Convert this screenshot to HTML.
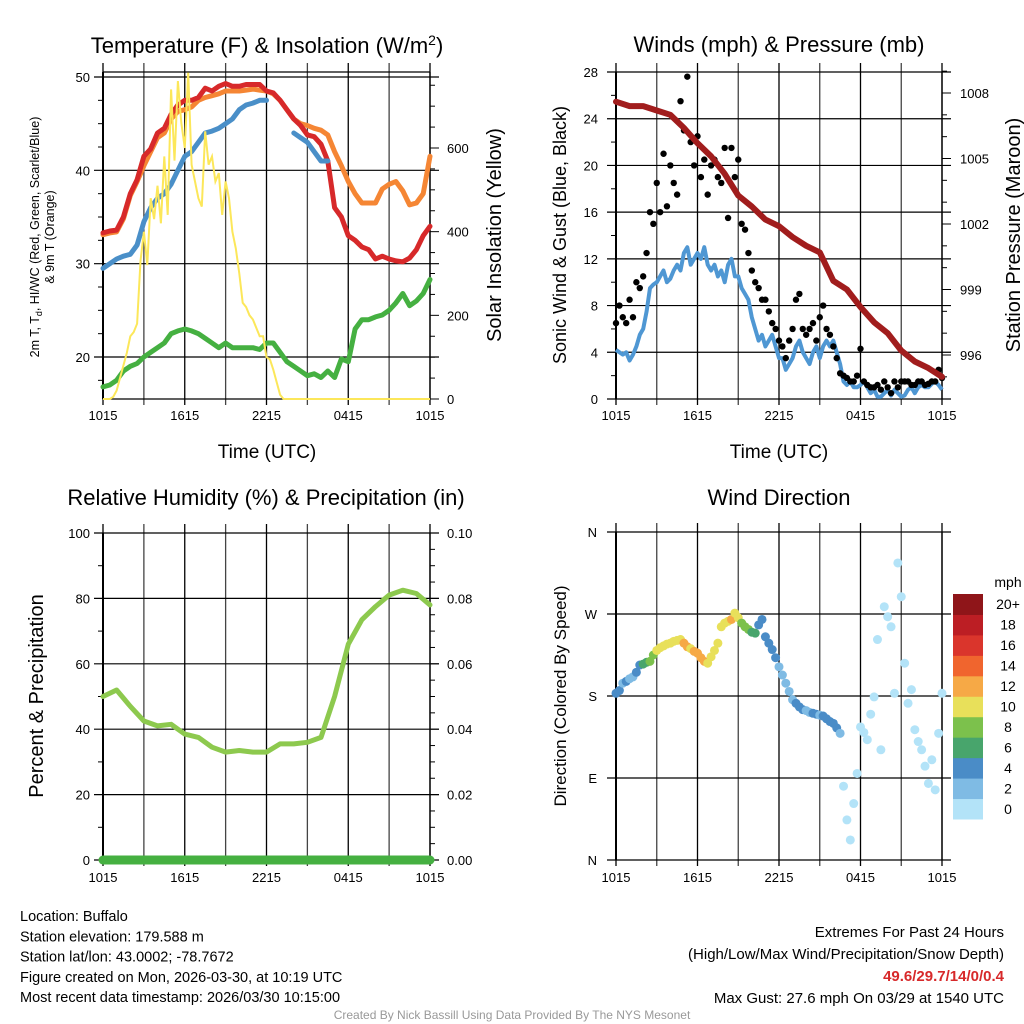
<!DOCTYPE html>
<html><head><meta charset="utf-8"><style>
html,body{margin:0;padding:0;background:#fff;}
svg{display:block;font-family:"Liberation Sans",sans-serif;}
</style></head><body>
<svg id="c" width="1024" height="1024" viewBox="0 0 1024 1024" xmlns="http://www.w3.org/2000/svg"></svg>
<script>
// ---- DATA ----
const xTickLabels = ["1015","1615","2215","0415","1015"];
// half-hourly temperatures (49 pts)
const tempRed = [33.3,33.5,33.6,35,37.5,39,41.5,42.3,44,44.5,46,47,47.5,47.5,47.8,48.8,48.5,49,49.3,49,49,49.2,49.2,49.2,48.5,48.3,47.5,46.5,45.5,44.8,43.8,43.6,42.8,41,36,35,33,32.5,31.8,31.5,30.5,30.8,30.5,30.3,30.2,30.6,31.5,33,34];
const temp9m = [33.1,33.3,33.4,34.8,37.3,38.8,40.5,42,43.5,44,45.5,46.3,46.5,46.8,47.5,47.8,48,48.2,48.5,48.5,48.5,48.6,48.7,48.6,48.5,48.2,47.5,46.5,45.5,45,44.8,44.5,44.3,43.8,42,40.5,38.8,37.5,36.5,36.5,36.5,38,38.5,38.8,37.8,36.3,36.5,37.5,41.5];
const tempHI = [29.5,30,30.5,30.8,31,32,34.5,36,37,37.5,38.5,40,41.5,42,43,44,44.2,44.5,45,45.5,46.5,47,47.2,47.5,47.5,null,46,null,44,43.5,43,42,41,41,null,null,null,null,null,null,null,null,null,null,null,null,null,null,null];
const tempTd = [16.8,17,17.5,18.5,19,19.3,20,20.5,21,21.5,22.5,22.8,23,22.8,22.5,22,21.5,21,21.5,21,21,21,21,20.8,21.5,21.5,20.5,19.5,19,18.5,18,18.2,17.8,18.5,17.8,19.8,19.5,23,24,24,24.3,24.5,25,25.8,26.8,25.5,26,26.8,28.3];
// 15-minute insolation W/m2 (97 pts)
const solar = [0,0,0,5,20,50,80,110,150,160,180,330,400,320,480,430,510,420,580,440,740,570,760,660,600,780,560,520,480,460,640,560,580,520,540,440,520,480,400,360,300,230,220,200,190,170,150,150,100,95,70,40,10,0,0,0,0,0,0,0,0,0,0,0,0,0,0,0,0,0,0,0,0,0,0,0,0,0,0,0,0,0,0,0,0,0,0,0,0,0,0,0,0,0,0,0,0];
// 15-minute winds (97 pts)
const windSpeed = [4.2,4,3.8,4,3.3,3.8,4.5,5.5,6,7.5,9.5,9.8,10,10.5,11,10,10.3,11,11.5,11,12.5,13,11.5,12,12.5,12,13,11.5,11,11.5,10.5,11,10,11.5,12,10.5,10.5,9.5,9,8.5,7,6,5,5.5,4.5,5,5.5,4.5,3.5,3.5,2.5,3,3.5,4.5,5,4,3.5,3,4,4.5,3.5,4.5,5,4.5,5,4,3,1.5,1.2,1.5,1,1,1.2,1.5,1,0.5,0.8,0.2,0.2,0.5,0.8,0.3,0.8,0.5,0.2,0.3,0.8,1,0.5,1,1.2,1,1,1.3,1.5,1.2,0.8];
const windGust = [6.5,8,7,6.5,8.5,7,10,9.5,10.5,12.5,16,15,18.5,16,21,16.5,20,18.5,17.5,25.5,23,27.6,22,20,22.5,19,20.5,17.5,20,20.5,19,18.5,21.5,15.5,21.5,19,20.5,15,14.5,12.5,11,10,9.5,8.5,8.5,7.5,6.5,6,5,4.5,3.5,5,6,8.5,9,6,5.5,6,6.5,5,7,8,6,5.5,4.5,3.5,2.2,2,1.8,1.5,1.5,2,4.3,1.5,1.2,1,1,1.2,0.8,1.5,1,0.5,1.5,1,1.5,1.5,1.5,1.2,1.2,1.5,1.5,1.2,1.3,1.5,1.5,2.5,1.8];
const windDir = [183,186,194,196,199,201,206,214,215,217,218,225,230,233,235,237,238,240,241,242,238,234,232,229,227,222,218,216,223,230,238,256,260,262,264,271,266,260,256,253,250,249,258,264,245,238,231,222,212,203,194,185,176,172,168,165,164,162,161,160,159,158,155,152,150,145,139,81,44,22,62,95,146,140,132,160,179,242,121,278,267,256,183,326,289,216,172,187,143,130,121,103,84,110,77,139,183];
// hourly pressure (25 pts)
const pressure = [1007.6,1007.4,1007.4,1007.2,1007.0,1006.4,1005.7,1005.1,1004.3,1003.3,1002.8,1002.2,1001.9,1001.4,1001.0,1000.7,999.4,999.0,998.2,997.5,997.0,996.2,995.7,995.4,995.0];
// hourly RH (25 pts) and precip
const rh = [50,52,47,42.5,41,41.5,38.5,37.5,34.5,33,33.5,33,33,35.5,35.5,36,37.5,50,66,73.5,77.5,81,82.5,81.5,78];
const precip = [0,0,0,0,0,0,0,0,0,0,0,0,0,0,0,0,0,0,0,0,0,0,0,0,0];
const speedBins = ["0","2","4","6","8","10","12","14","16","18","20+"];
const speedColors = ["#b3e3f8","#7fbbe4","#4a8cc7","#48a56c","#7cc14c","#e8e05a","#f6a946","#f0652e","#da352c","#bc1e24","#8f1519"];

// ---- DRAW ----
const NS="http://www.w3.org/2000/svg";
const svg=document.getElementById('c');
function el(tag,attrs,parent){const e=document.createElementNS(NS,tag);for(const k in attrs)e.setAttribute(k,attrs[k]);(parent||svg).appendChild(e);return e;}
function txt(s,x,y,size,anchor,parent,extra){const t=el('text',Object.assign({x:x,y:y,'font-size':size,'text-anchor':anchor||'middle',fill:'#000'},extra||{}),parent);t.textContent=s;return t;}
function lin(d0,d1,r0,r1){return v=>r0+(v-d0)*(r1-r0)/(d1-d0);}

function frame(g,L,R,T,B,yTicksY,xGridCount){
  for(let i=0;i<=xGridCount;i++){const x=L+(R-L)*i/xGridCount;
    el('line',{x1:x,x2:x,y1:T-9,y2:B+6,stroke:i%2?'#444':'#000','stroke-width':1.3},g);}
  yTicksY.forEach(y=>el('line',{x1:L-9,x2:R+9,y1:y,y2:y,stroke:'#000','stroke-width':1.2},g));
  el('line',{x1:L,x2:L,y1:T,y2:B,stroke:'#000','stroke-width':2},g);
  el('line',{x1:R,x2:R,y1:T,y2:B,stroke:'#000','stroke-width':1.3},g);
}
function xLabels(g,L,R,y){xTickLabels.forEach((s,i)=>{const t=txt(s,L+(R-L)*i/4,y,13,'middle',g);});}
function pathFrom(arr,fx,fy){let d='',pen=false;arr.forEach((v,i)=>{if(v===null){pen=false;return;}d+=(pen?'L':'M')+fx(i).toFixed(1)+' '+fy(v).toFixed(1);pen=true;});return d;}

// ===== Panel 1: Temperature =====
(function(){
  const L=103,R=430,T=72,B=399;
  const g=el('g',{});  
  const fy=lin(50,20,77,357), fs=lin(0,600,399,148);
  const tY=[20,30,40,50].map(fy);
  frame(g,L,R,T,B,tY,8);
  el('line',{x1:L,x2:R,y1:T,y2:T,stroke:'#000','stroke-width':1.3},g);
  el('line',{x1:L,x2:R,y1:B,y2:B,stroke:'#000','stroke-width':1.3},g);
  [20,30,40,50].forEach(v=>{const t=txt(String(v),90,fy(v)+5,13,'end',g);});
  for(let v=0;v<=750;v+=50){const y=fs(v);el('line',{x1:R,x2:R+(v%200===0?9:5),y1:y,y2:y,stroke:'#000','stroke-width':1},g);}
  [0,200,400,600].forEach(v=>{const t=txt(String(v),447,fs(v)+5,13,'start',g);});
  for(let v=17.5;v<50;v+=2.5){if(v%10)el('line',{x1:L-5,x2:L,y1:fy(v),y2:fy(v),stroke:'#000'},g);}
  const fx=i=>L+(R-L)*i/48, fx2=i=>L+(R-L)*i/96;
  const series=[[tempTd,'#45b041','dewpoint-line'],[temp9m,'#f58634','temp-9m-line'],[tempRed,'#d7292a','temp-2m-line'],[tempHI,'#4a8fc8','heat-index-line']];
  series.forEach(s=>{const p=el('path',{d:pathFrom(s[0],fx,fy),fill:'none',stroke:s[1],'stroke-width':5,'stroke-linejoin':'round','stroke-linecap':'round'},g);});
  const ps=el('path',{d:pathFrom(solar,fx2,fs),fill:'none',stroke:'#fce75a','stroke-width':2},g);
  
  xLabels(g,L,R,420);
  const t1=el('text',{x:267,y:53,'font-size':22,'text-anchor':'middle'},g);t1.innerHTML='Temperature (F) &amp; Insolation (W/m<tspan dy="-8" font-size="14">2</tspan><tspan dy="8">)</tspan>';
  
  const xt=txt('Time (UTC)',267,458,19,'middle',g);
  const yl=el('text',{x:0,y:0,'font-size':12.5,'text-anchor':'middle',transform:'translate(39,237) rotate(-90)'},g);
  yl.innerHTML='2m T, T<tspan dy="3" font-size="9">d</tspan><tspan dy="-3">, HI/WC (Red, Green, Scarlet/Blue)</tspan>';
  
  const yl2=txt('& 9m T (Orange)',0,0,12.5,'middle',g,{transform:'translate(54,237) rotate(-90)'});
  const yr=txt('Solar Insolation (Yellow)',0,0,20,'middle',g,{transform:'translate(501,235) rotate(-90)'});
})();

// ===== Panel 2: Winds =====
(function(){
  const L=616,R=942,T=72,B=399;
  const g=el('g',{});  
  const fy=lin(0,28,399,72), fp=lin(996,1008,355,93);
  const wt=[0,4,8,12,16,20,24,28];
  frame(g,L,R,T,B,wt.map(fy),8);
  wt.forEach(v=>{const t=txt(String(v),598,fy(v)+5,13,'end',g);});
  for(let v=2;v<28;v+=4)el('line',{x1:L-5,x2:L,y1:fy(v),y2:fy(v),stroke:'#000'},g);
  for(let v=995;v<=1009;v++){const y=fp(v);el('line',{x1:R,x2:R+(v%3===0?9:5),y1:y,y2:y,stroke:'#000','stroke-width':1},g);}
  [996,999,1002,1005,1008].forEach(v=>{const t=txt(String(v),960,fp(v)+5,13,'start',g);});
  const fx2=i=>L+(R-L)*i/96, fxh=i=>L+(R-L)*i/24;
  const pw=el('path',{d:pathFrom(windSpeed,fx2,fy),fill:'none',stroke:'#4f97d3','stroke-width':4,'stroke-linejoin':'round'},g);
  
  windGust.forEach((v,i)=>{const c=el('circle',{cx:fx2(i),cy:fy(v),r:3.2,fill:'#000'},g);});
  const pp=el('path',{d:pathFrom(pressure,fxh,fp),fill:'none',stroke:'#a11d1d','stroke-width':6,'stroke-linejoin':'round','stroke-linecap':'round'},g);
  
  xLabels(g,L,R,420);
  const t1=txt('Winds (mph) & Pressure (mb)',779,52,22,'middle',g);
  const xt=txt('Time (UTC)',779,458,19,'middle',g);
  const yl=txt('Sonic Wind & Gust (Blue, Black)',0,0,18,'middle',g,{transform:'translate(566,235) rotate(-90)'});
  const yr=txt('Station Pressure (Maroon)',0,0,20,'middle',g,{transform:'translate(1020,235) rotate(-90)'});
})();

// ===== Panel 3: RH =====
(function(){
  const L=103,R=430,T=533,B=860;
  const g=el('g',{});  
  const fy=lin(0,100,860,533), fpr=lin(0,0.1,860,533);
  const yt=[0,20,40,60,80,100];
  frame(g,L,R,T,B,yt.map(fy),8);
  yt.forEach(v=>{const t=txt(String(v),90,fy(v)+5,13,'end',g);});
  for(let v=10;v<100;v+=20)el('line',{x1:L-5,x2:L,y1:fy(v),y2:fy(v),stroke:'#000'},g);
  for(let v=0;v<=20;v++){const y=fy(v*5);el('line',{x1:R,x2:R+(v%4===0?9:5),y1:y,y2:y,stroke:'#000','stroke-width':1},g);}
  ["0.00","0.02","0.04","0.06","0.08","0.10"].forEach((s,i)=>{const t=txt(s,447,fpr(i*0.02)+5,13,'start',g);});
  const fxh=i=>L+(R-L)*i/24;
  const pr=el('path',{d:pathFrom(precip,fxh,fpr),fill:'none',stroke:'#45b041','stroke-width':9,'stroke-linecap':'round'},g);
  
  const ph=el('path',{d:pathFrom(rh,fxh,fy),fill:'none',stroke:'#8dc94e','stroke-width':5,'stroke-linejoin':'round','stroke-linecap':'round'},g);
  
  xLabels(g,L,R,882);
  const t1=txt('Relative Humidity (%) & Precipitation (in)',266,505,22,'middle',g);
  const yl=txt('Percent & Precipitation',0,0,20,'middle',g,{transform:'translate(43,696) rotate(-90)'});
})();

// ===== Panel 4: Wind Direction =====
(function(){
  const L=616,R=942,T=532,B=860;
  const g=el('g',{});  
  const fy=lin(0,360,860,532);
  const dt=[0,90,180,270,360], dl=['N','E','S','W','N'];
  frame(g,L,R,T,B,dt.map(fy),8);
  dt.forEach((v,i)=>{const t=txt(dl[i],597,fy(v)+5,13,'end',g);});
  const fx2=i=>L+(R-L)*i/96;
  windDir.forEach((v,i)=>{const b=Math.min(10,Math.floor(windSpeed[i]/2));
    const c=el('circle',{cx:fx2(i),cy:fy(v),r:4.5,fill:speedColors[b]},g);});
  xLabels(g,L,R,882);
  const t1=txt('Wind Direction',779,505,22,'middle',g);
  const yl=txt('Direction (Colored By Speed)',0,0,17,'middle',g,{transform:'translate(566,696) rotate(-90)'});
  const cb=el('g',{},g);
  const h=(819-594)/11;
  speedBins.forEach((s,i)=>{const y=819-(i+1)*h;
    const r=el('rect',{x:953,y:y,width:30,height:h+0.5,fill:speedColors[i]},cb);
    const t=txt(s,1008,y+h/2+5,14,'middle',cb);});
  const mu=txt('mph',1008,587,14,'middle',cb);
})();

// ===== Footer text =====
(function(){
  const g=el('g',{});  
  const left=['Location: Buffalo','Station elevation: 179.588 m','Station lat/lon: 43.0002; -78.7672','Figure created on Mon, 2026-03-30, at 10:19 UTC','Most recent data timestamp: 2026/03/30 10:15:00'];
  left.forEach((s,i)=>{const t=txt(s,20,921+i*20.3,14.5,'start',g);});
  const r1=txt('Extremes For Past 24 Hours',1004,937,15,'end',g);
  const r2=txt('(High/Low/Max Wind/Precipitation/Snow Depth)',1004,959,15,'end',g);
  const r3=txt('49.6/29.7/14/0/0.4',1004,981,15,'end',g,{fill:'#d7292a','font-weight':'bold'});
  const r4=txt('Max Gust: 27.6 mph On 03/29 at 1540 UTC',1004,1003,15,'end',g);
  const cr=txt('Created By Nick Bassill Using Data Provided By The NYS Mesonet',512,1019,12,'middle',g,{fill:'#999'});
})();
</script>
</body></html>
